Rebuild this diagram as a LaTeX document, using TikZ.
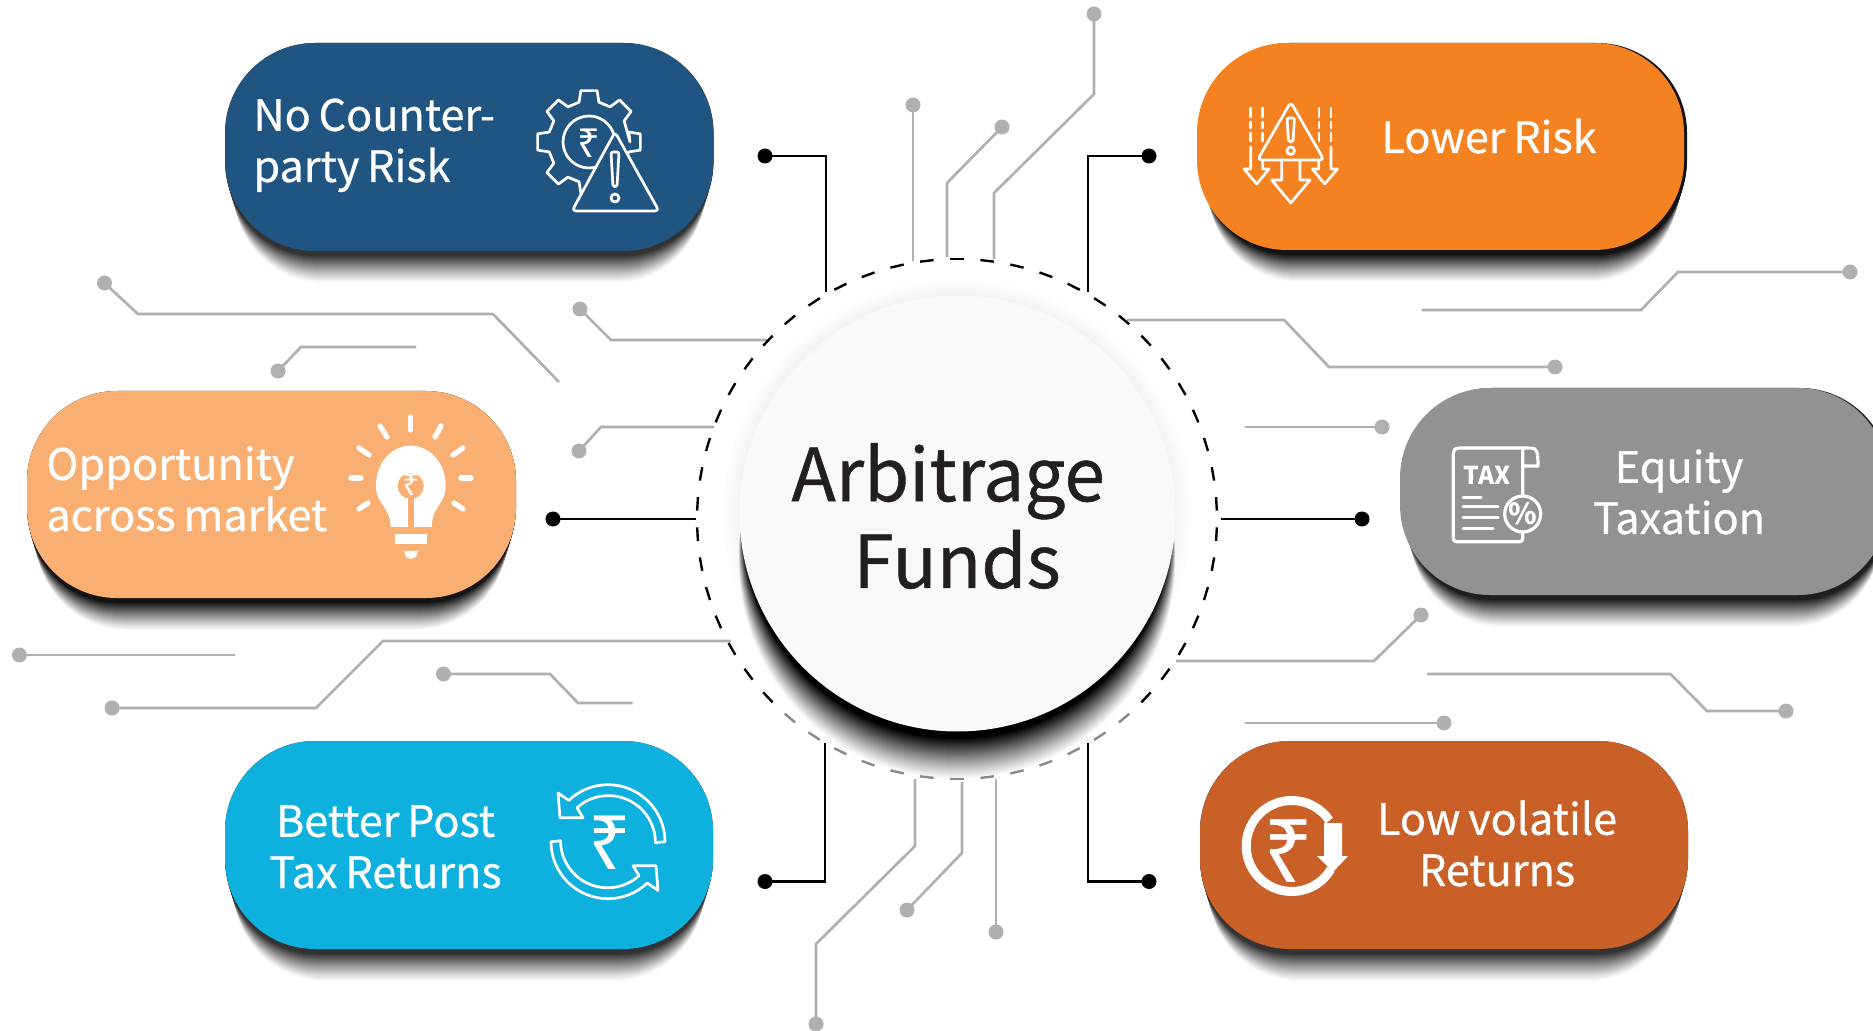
\documentclass[tikz,border=0pt]{standalone}
\usepackage{fontspec}
\setmainfont{Noto Sans CJK SC}
\newfontfamily\lblfont{Noto Sans CJK SC}[FakeBold=0.6,WordSpace=0.8]
\newfontfamily\rupeefont{Noto Sans}[BoldFeatures={FakeBold=0.8}]
\definecolor{cblue}{HTML}{215581}
\definecolor{corange}{HTML}{F58220}
\definecolor{cpeach}{HTML}{F9AF72}
\definecolor{cgray}{HTML}{929291}
\definecolor{ccyan}{HTML}{0EB0DD}
\definecolor{crust}{HTML}{C96027}
\definecolor{chub}{HTML}{F9F9F9}
\definecolor{cink}{HTML}{231F20}
\definecolor{cline}{HTML}{B0B0B0}
\definecolor{cdashlight}{HTML}{8A8A8A}
\tikzset{
  pill/.style={rounded corners=45pt,inner sep=0,minimum width=244pt,minimum height=104pt},
  pilltext/.style={text=white,inner sep=0,font=\lblfont\fontsize{21.6}{25.6}\selectfont},
  hubtext/.style={text=cink,inner sep=0,font=\lblfont\fontsize{36.5}{43.4}\selectfont},
  gdot/.style={circle,fill=cline,inner sep=0,minimum size=7.5pt},
  kdot/.style={circle,fill=black,inner sep=0,minimum size=7.5pt},
  gline/.style={draw=cline,line width=1.35pt},
  kline/.style={draw=black,line width=1.2pt},
  ico/.style={draw=white,line width=1.35pt,line join=round,line cap=round},
  rs/.style={text=white,inner sep=0},
}
\newcommand{\pillshadow}[6]{% cx cy w h dx darkness
  \foreach \k in {33,32,...,0}{
    \pgfmathsetmacro\pct{#6*min(1,((33-\k)/28)^1.15)}
    \pgfmathsetmacro\ins{0.3*\k}
    \fill[black!\pct!white,rounded corners=45pt]
      ({#1-#3/2+\ins+#5},{#2-#4/2+\k}) rectangle ({#1+#3/2-\ins+#5},{#2+#4/2+\k});
  }
}
\begin{document}
\begin{tikzpicture}[x=0.5pt,y=-0.5pt]
\useasboundingbox (0,0) rectangle (1873,1031);
\clip (0,0) rectangle (1873,1031);
\fill[white] (0,0) rectangle (1873,1031);

% shadows
\pillshadow{469.3}{147}{488.6}{208}{0}{80}
\pillshadow{1440.5}{146.5}{487}{207}{3}{92}
\pillshadow{271.5}{494.5}{489}{207}{0}{92}
\pillshadow{1644}{491.5}{488}{207}{2}{88}
\pillshadow{469}{845}{488}{208}{0}{80}
\pillshadow{1444}{845}{488}{208}{0}{80}

% grey traces
\node[gdot] (a) at (104.5,283) {}; \coordinate (ae) at (559,382);
\draw[gline] (a.center) -- (138,314) -- (493,314) -- (ae);
\node[gdot] (b) at (278,371) {}; \coordinate (be) at (416,347);
\draw[gline] (b.center) -- (301,347) -- (be);
\node[gdot] (c) at (580,309) {}; \coordinate (ce) at (767,340);
\draw[gline] (c.center) -- (611,340) -- (ce);
\node[gdot] (d) at (579,451) {}; \coordinate (de) at (714,427);
\draw[gline] (d.center) -- (601,427) -- (de);
\node[gdot] (e) at (19.4,655) {}; \coordinate (ee) at (234.6,655);
\draw[gline] (e.center) -- (ee);
\node[gdot] (f) at (112,708) {}; \coordinate (fe) at (731,641);
\draw[gline] (f.center) -- (316,708) -- (383,641) -- (fe);
\node[gdot] (g) at (443.5,674) {}; \coordinate (ge) at (632.6,703);
\draw[gline] (g.center) -- (550,674) -- (578,703) -- (ge);
\node[gdot] (h) at (1555,367) {}; \coordinate (he) at (1127,320);
\draw[gline] (h.center) -- (1329,367) -- (1284,320) -- (he);
\node[gdot] (i) at (1850,272) {}; \coordinate (ie) at (1421.6,310);
\draw[gline] (i.center) -- (1678,272) -- (1641,310) -- (ie);
\node[gdot] (j) at (1382,427) {}; \coordinate (je) at (1245,427);
\draw[gline] (j.center) -- (je);
\node[gdot] (k) at (1421,615) {}; \coordinate (ke) at (1176,661);
\draw[gline] (k.center) -- (1374,661) -- (ke);
\node[gdot] (l) at (1786,711) {}; \coordinate (le) at (1427,674);
\draw[gline] (l.center) -- (1707,711) -- (1670.5,674) -- (le);
\node[gdot] (m) at (1444,723) {}; \coordinate (me) at (1245,723);
\draw[gline] (m.center) -- (me);
\node[gdot] (n) at (913,105) {}; \coordinate (ne) at (913,261);
\draw[gline] (n.center) -- (ne);
\node[gdot] (o) at (1002,127) {}; \coordinate (oe) at (947,257);
\draw[gline] (o.center) -- (947,183) -- (oe);
\node[gdot] (p) at (1094,14) {}; \coordinate (pe) at (994,259);
\draw[gline] (p.center) -- (1094,94) -- (994,193) -- (pe);
\node[gdot] (q) at (816,1024) {}; \coordinate (qe) at (915,779);
\draw[gline] (q.center) -- (816,944) -- (915,846) -- (qe);
\node[gdot] (r) at (907,910) {}; \coordinate (re) at (962,782);
\draw[gline] (r.center) -- (962,853) -- (re);
\node[gdot] (s) at (996,932) {}; \coordinate (se) at (996,779);
\draw[gline] (s.center) -- (se);

% black traces
\node[kdot] (kul) at (765,156) {}; \coordinate (kule) at (826,292);
\draw[kline] (kul.center) -- (826,156) -- (kule);
\node[kdot] (kur) at (1149,156) {}; \coordinate (kure) at (1088,292);
\draw[kline] (kur.center) -- (1088,156) -- (kure);
\node[kdot] (kml) at (553,519) {}; \coordinate (kmle) at (696,519);
\draw[kline] (kml.center) -- (kmle);
\node[kdot] (kmr) at (1362,519) {}; \coordinate (kmre) at (1221,519);
\draw[kline] (kmr.center) -- (kmre);
\node[kdot] (kll) at (765,881.5) {}; \coordinate (klle) at (825,743);
\draw[kline] (kll.center) -- (825,881.5) -- (klle);
\node[kdot] (klr) at (1149,881.5) {}; \coordinate (klre) at (1088,743);
\draw[kline] (klr.center) -- (1088,881.5) -- (klre);

% hub glow and shadow
\foreach \k in {16,15,...,1}{
  \pgfmathsetmacro\pct{4.5*(17-\k)/16}
  \fill[black!\pct!white] (957.5,513.5) circle[radius=218+\k];
}
\foreach \k in {54,53,...,0}{
  \pgfmathsetmacro\pct{100*min(1,((54-\k)/42)^1.15)}
  \fill[black!\pct!white] (957,{513.5+0.9*\k}) circle[radius=213+0.1*\k];
}
% dashed ring
\foreach \i in {0,...,53}{
  \pgfmathsetmacro\t{3.3333+6.6667*\i}
  \pgfmathsetmacro\ta{\t-1.5}
  \pgfmathsetmacro\tb{\t+1.5}
  \def\dc{black}
  \ifdim\t pt>46pt \ifdim\t pt<134pt \def\dc{cdashlight}\fi\fi
  \draw[\dc,line width=1.2pt] ({957+260*cos(\ta)},{519+260*sin(\ta)}) -- ({957+260*cos(\tb)},{519+260*sin(\tb)});
}
\node[circle,fill=chub,inner sep=0,minimum size=218pt] (hub) at (957.5,513.5) {};
\node[hubtext,align=left,anchor=base west] (hubl) at (791,588) {Arbitrage\\\hspace*{31pt}Funds};

% pills
\node[pill,fill=cblue] (nocp) at (469.3,147) {};
\node[pill,fill=corange,minimum width=243.5pt,minimum height=103.5pt] (lrisk) at (1440.5,146.5) {};
\node[pill,fill=cpeach,minimum width=244.5pt,minimum height=103.5pt] (opp) at (271.5,494.5) {};
\node[pill,fill=cgray,minimum height=103.5pt] (eqt) at (1644,491.5) {};
\node[pill,fill=ccyan] (bpt) at (469,845) {};
\node[pill,fill=crust] (lvr) at (1444,845) {};

% labels
\node[pilltext,align=left,anchor=base west] (t1) at (253,182) {No Counter-\\party Risk};
\node[pilltext,anchor=base west] (t2) at (1381,153) {Lower Risk};
\node[pilltext,align=left,anchor=base west] (t3) at (46,531) {Opportunity\\across market};
\node[pilltext,align=center,anchor=base] (t4) at (1679,534) {Equity\\Taxation};
\node[pilltext,align=center,anchor=base] (t5) at (385.5,888) {Better Post\\Tax Returns};
\node[pilltext,align=center,anchor=base] (t6) at (1497,886) {Low volatile\\Returns};

% icon: gear + warning
\draw[ico,fill=cblue] (589,142) ++(41,0)
  foreach \a in {0,45,...,315}{
   -- ({589+41*cos(\a-14)},{142+41*sin(\a-14)})
   -- ({589+52*cos(\a-9)},{142+52*sin(\a-9)})
   -- ({589+52*cos(\a+9)},{142+52*sin(\a+9)})
   -- ({589+41*cos(\a+14)},{142+41*sin(\a+14)}) } -- cycle;
\draw[ico] (589,142) circle[radius=26];
\node[rs,font=\rupeefont\bfseries\fontsize{20}{20}\selectfont] (ir1) at (588.5,143) {₹};
\draw[ico,fill=cblue,rounded corners=2pt] (615,132) -- (659,211) -- (572,211) -- cycle;
\draw[ico,rounded corners=1pt] (611,152) -- (619,152) -- (617,187) -- (613,187) -- cycle;
\draw[ico] (615,198) circle[radius=4];

% icon: falling warning
\draw[ico,rounded corners=2pt] (1290.7,102) -- (1324,160) -- (1257.5,160) -- cycle;
\draw[ico,rounded corners=1pt] (1287,118) -- (1294.5,118) -- (1293,142) -- (1288.5,142) -- cycle;
\draw[ico] (1290.7,150.7) circle[radius=3.8];
\draw[ico] (1281.7,160) -- (1281.7,180) -- (1271.7,180) -- (1290.7,203) -- (1310,180) -- (1300,180) -- (1300,160);
\draw[ico] (1250.7,147) -- (1250.7,169) -- (1244,169) -- (1256.7,184) -- (1269,169) -- (1262.7,169) -- (1262.7,160);
\draw[ico] (1331,147) -- (1331,169) -- (1337.4,169) -- (1324.7,184) -- (1312.4,169) -- (1318.7,169) -- (1318.7,160);
\foreach \xx in {1250.7,1262.5,1319,1331}{
  \draw[ico] (\xx,108) -- (\xx,117) (\xx,122) -- (\xx,128) (\xx,133) -- (\xx,141);
}

% icon: bulb
\fill[white] (390.7,527) .. controls (390,505) and (376,505) .. (376,486) .. controls (376,462) and (392,445.7) .. (410.7,445.7) .. controls (429,445.7) and (445.7,462) .. (445.7,486) .. controls (445.7,505) and (432,505) .. (431.7,527) -- cycle;
\fill[cpeach] (410.7,486) circle[radius=13];
\fill[cpeach] (408,490) rectangle (413.5,527);
\node[rs,font=\rupeefont\bfseries\fontsize{15}{15}\selectfont] (ir2) at (411,485) {₹};
\fill[white] (395,534) rectangle (427,544);
\fill[white] (404,551) -- (418,551) -- (416,557) -- (410.7,559) -- (406,557) -- cycle;
\foreach \xa/\ya/\xb/\yb in {410.7/417/410.7/430,380/426/387/437,441/426/435/437,359/448/369/455,463/448/453/455,351/478/361/478,461/478/471/478,359/509/368/503,463/509/454/503}{
  \draw[white,line width=2.6pt,line cap=round] (\xa,\ya) -- (\xb,\yb);
}

% icon: tax document
\draw[ico,line width=1.6pt,rounded corners=1.5pt] (1522.7,496) -- (1522.7,452) .. controls (1523,448) and (1526,448) .. (1531,448) -- (1456,448) -- (1453.3,451) -- (1453.3,541.7) -- (1522.7,541.7) -- (1522.7,532);
\draw[ico,line width=1.6pt] (1531,448) .. controls (1537,448) and (1538,452) .. (1538,466) -- (1523,466);
\draw[ico,line width=1.6pt] (1522.7,514) circle[radius=18];
\node[text=white,inner sep=0,font=\bfseries\fontsize{12.3}{12.3}\selectfont] (taxt) at (1487,475) {TAX};
\node[text=white,inner sep=0,font=\bfseries\fontsize{14.5}{14.5}\selectfont] (pcnt) at (1522.7,514) {\%};
\draw[ico,line width=1.5pt] (1463,498) -- (1481,498) (1463,507) -- (1498,507) (1463,518) -- (1498,518) (1463,529) -- (1493,529);

% icon: refresh rupee
\begin{scope}[shift={(608,841.7)}]
\foreach \rr in {0,180}{
\begin{scope}[rotate=\rr]
\draw[ico] (57,0) arc[start angle=0,end angle=-133.5,radius=57] -- (-50,-48.7) -- (-48,-24) -- (-25,-24) -- (-31,-34) arc[start angle=-132,end angle=0,radius=47] -- cycle;
\end{scope}}
\end{scope}
\node[rs,font=\rupeefont\bfseries\fontsize{37.5}{37.5}\selectfont] (ir3) at (609.5,843) {₹};

% icon: rupee down
\draw[white,line width=4.5pt] ({1291.7+45.5*cos(31)},{846+45.5*sin(31)}) arc[start angle=31,end angle=326,radius=45.5];
\node[rs,font=\rupeefont\bfseries\fontsize{44}{44}\selectfont] (ir4) at (1289,851) {₹};
\fill[white] (1324,823) -- (1342,823) -- (1342,856) -- (1348,856) -- (1333,872) -- (1317,856) -- (1324,856) -- cycle;
\end{tikzpicture}
\end{document}
